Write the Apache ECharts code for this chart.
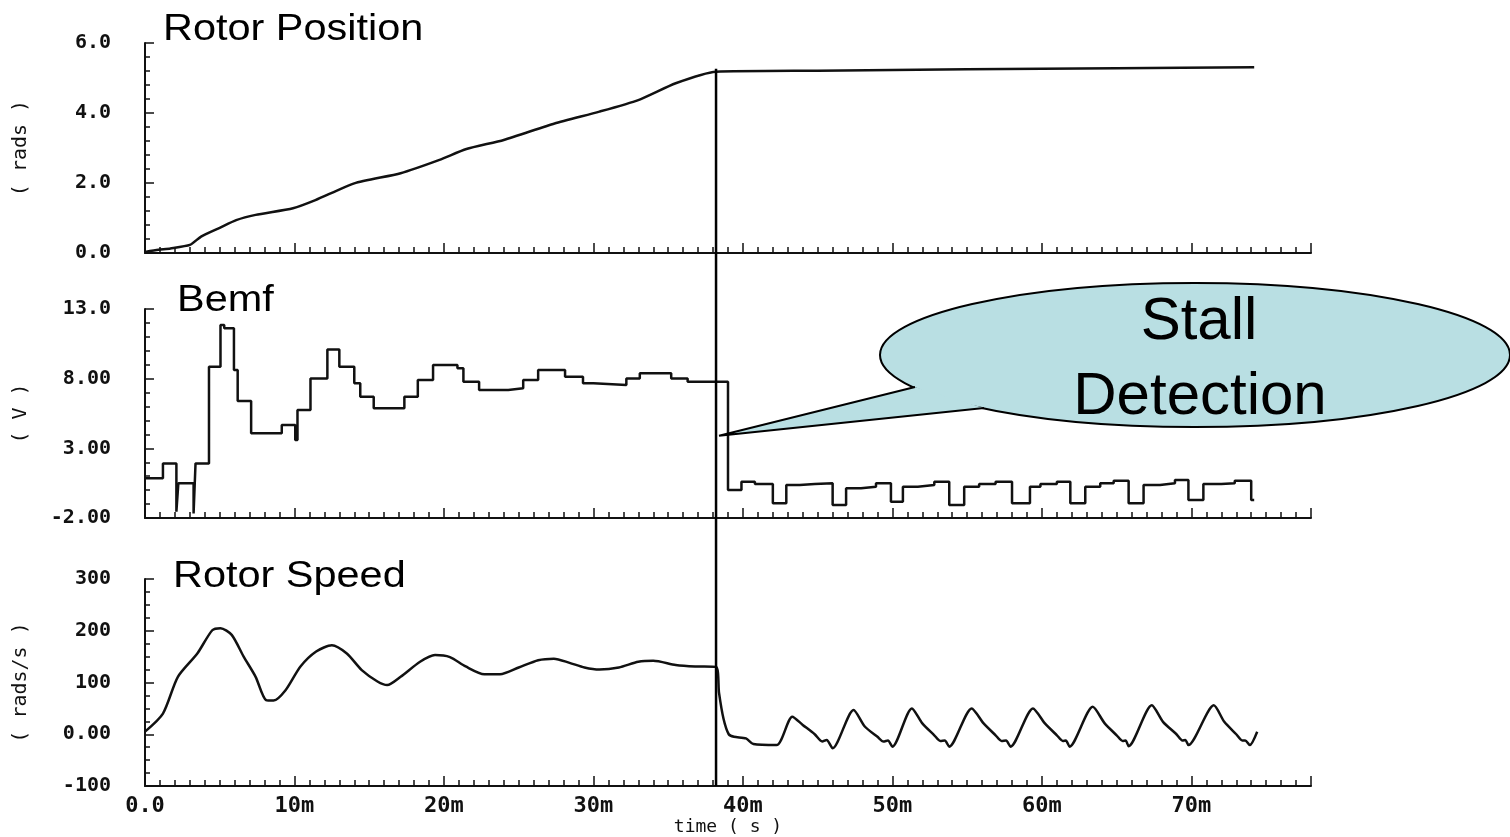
<!DOCTYPE html>
<html><head><meta charset="utf-8">
<script src="https://cdn.jsdelivr.net/npm/echarts@6/dist/echarts.min.js"></script>
<style>html,body{margin:0;padding:0;background:#fff}#c{width:1510px;height:837px}</style>
</head><body><div id="c"></div>
<script>
// ---- data (time in ms) ----
const stallT = 38.2;
const posT = [0, 0.9, 1.7, 3.0, 3.75, 5.0, 6.1, 7.4, 9.9, 11.4, 14.0, 17.1, 19.7, 21.5, 24.0, 27.4, 30.4, 33.0, 35.5, 38.2, 45, 55, 65, 74.2];
const posV = [0.03, 0.09, 0.13, 0.23, 0.47, 0.72, 0.94, 1.09, 1.28, 1.51, 1.99, 2.28, 2.66, 2.97, 3.23, 3.70, 4.04, 4.37, 4.85, 5.18, 5.21, 5.25, 5.28, 5.31];

const bemfT = [0, 1.2, 2.1, 2.23, 3.25, 3.38, 4.28, 5.05, 5.3, 5.95, 6.2, 7.1, 9.15, 10.05, 10.2, 11.07, 12.2, 13.0, 14.0, 14.4, 15.3, 17.35, 18.25, 19.27, 20.9, 21.3, 22.35, 24.3, 25.3, 26.3, 28.1, 29.3, 30.0, 32.2, 33.1, 35.2, 36.3,
  39.0, 39.9, 40.8, 42.0, 42.9, 43.8, 44.8, 46.0, 46.9, 47.9, 48.9, 49.9, 50.7, 51.7, 52.8, 53.8, 54.8, 55.8, 56.9, 58.0, 59.2, 59.9, 61.0, 61.9, 62.9, 63.9, 64.8, 65.8, 66.8, 67.9, 68.9, 69.8, 70.8, 72.0, 72.9, 74.0, 74.2];
const bemfV = [0.85, 1.92, -1.55, 0.49, -1.67, 1.92, 8.86, 11.85, 11.61, 8.62, 6.4, 4.08, 4.67, 3.6, 5.75, 8.02, 10.1, 8.86, 7.67, 6.71, 5.87, 6.71, 7.90, 8.98, 8.74, 7.78, 7.19, 7.31, 7.90, 8.62, 8.14, 7.67, 7.55, 8.02, 8.38, 8.02, 7.78,
  0.01, 0.61, 0.44, -0.95, 0.37, 0.44, 0.49, -1.07, 0.13, 0.25, 0.49, -0.83, 0.25, 0.37, 0.61, -1.07, 0.25, 0.44, 0.61, -0.95, 0.25, 0.44, 0.61, -0.95, 0.25, 0.49, 0.68, -0.95, 0.37, 0.49, 0.73, -0.7, 0.44, 0.49, 0.68, -0.7, -0.7];

const speedT = [0, 1.2, 2.2, 3.5, 4.5, 5.05, 5.8, 6.6, 7.4, 8.1, 8.6, 9.4, 10.4, 11.45, 12.5, 13.5, 14.5, 15.55, 16.2, 17.1, 18.4, 19.4, 20.4, 21.45, 22.7, 23.75, 25.0, 26.3, 27.35, 28.4, 29.4, 30.4, 31.7, 33.0, 34.0, 35.5, 36.8, 38.2,
  38.4, 38.7, 39.05, 39.4, 40.2, 40.7, 42.25, 43.3, 44.0, 44.8, 45.3, 45.6, 46.0, 47.4, 48.15, 49.0, 49.4, 49.7, 50.0, 51.3, 52.0, 52.8, 53.2, 53.5, 53.8, 55.3, 56.1, 56.9, 57.3, 57.6, 57.9, 59.4, 60.2, 61.0, 61.4, 61.6, 61.85, 63.4, 64.2, 65.0, 65.4, 65.6, 65.8, 67.35, 68.1, 69.0, 69.4, 69.6, 69.8, 71.5, 72.2, 73.0, 73.4, 73.6, 73.9, 74.4];
const speedV = [5, 40, 111, 156, 201, 205, 192, 150, 111, 66, 65, 85, 131, 160, 172, 156, 124, 102, 95, 111, 140, 153, 149, 131, 116, 116, 129, 143, 146, 138, 129, 125, 129, 140, 142, 134, 131, 130,
  80, 30, 0, -5, -8, -19, -21, 34, 18, 0, -14, -11, -27, 47, 15, -5, -14, -12, -24, 50, 21, -2, -13, -12, -24, 50, 21, -2, -13, -12, -24, 50, 21, -2, -13, -12, -24, 53, 21, -2, -13, -12, -23, 56, 24, 0, -12, -11, -21, 56, 24, 0, -12, -12, -21, 5];

const timeTicks = ['0.0', '10m', '20m', '30m', '40m', '50m', '60m', '70m'];
const posTicks = ['0.0', '2.0', '4.0', '6.0'];
const bemfTicks = ['-2.00', '3.00', '8.00', '13.0'];
const speedTicks = ['-100', '0.00', '100', '200', '300'];
const titles = ['Rotor Position', 'Bemf', 'Rotor Speed'];
const yNames = ['( rads )', '( V )', '( rads/s )'];
const calloutLines = ['Stall', 'Detection'];

const zip = (a, b) => a.map((t, i) => [t, b[i]]);

// ---- chart ----
const chart = echarts.init(document.getElementById('c'), null, {renderer: 'canvas'});
const INK = '#111';
const monoBold = {fontFamily: 'DejaVu Sans Mono', fontWeight: 'bold', color: INK};
const grids = [
  {left: 145, top: 43, width: 1166, height: 210},
  {left: 145, top: 309, width: 1166, height: 209},
  {left: 145, top: 579, width: 1166, height: 207}
];
function xAx(i) {
  return {
    gridIndex: i, type: 'value', min: 0, max: 78, interval: 10,
    axisLine: {show: true, onZero: false, lineStyle: {color: INK, width: 2}},
    axisTick: {show: true, inside: true, length: 10, lineStyle: {color: INK, width: 1.5}},
    minorTick: {show: true, splitNumber: 10, length: 6, lineStyle: {color: INK, width: 1.5}},
    splitLine: {show: false},
    axisLabel: i === 2 ? Object.assign({show: true, fontSize: 22, margin: 9,
      formatter: v => (v % 10 === 0 && timeTicks[v / 10] !== undefined) ? timeTicks[v / 10] : ''}, monoBold) : {show: false},
    name: i === 2 ? 'time ( s )' : '',
    nameLocation: 'middle', nameGap: 32,
    nameTextStyle: {fontFamily: 'DejaVu Sans Mono', fontSize: 18, color: INK}
  };
}
function yAx(i, min, max, interval, minorSplit, fmt) {
  return {
    gridIndex: i, type: 'value', min, max, interval,
    axisLine: {show: true, onZero: false, lineStyle: {color: INK, width: 2}},
    axisTick: {show: true, inside: true, length: 9, lineStyle: {color: INK, width: 1.5}},
    minorTick: {show: true, splitNumber: minorSplit, length: 5, lineStyle: {color: INK, width: 1.5}},
    splitLine: {show: false},
    axisLabel: Object.assign({show: true, fontSize: 20, margin: 34, formatter: fmt}, monoBold),
    name: yNames[i], nameLocation: 'middle', nameGap: 114,
    nameTextStyle: {fontFamily: 'DejaVu Sans Mono', fontSize: 20, color: INK}
  };
}
const lineStyle = {color: INK, width: 2.5};
const option = {
  backgroundColor: '#fff',
  animation: false,
  grid: grids,
  xAxis: [xAx(0), xAx(1), xAx(2)],
  yAxis: [
    yAx(0, 0, 6, 2, 5, v => posTicks[Math.round(v / 2)] || ''),
    yAx(1, -2, 13, 5, 5, v => bemfTicks[Math.round((v + 2) / 5)] || ''),
    yAx(2, -100, 300, 100, 4, v => speedTicks[Math.round((v + 100) / 100)] || '')
  ],
  series: [
    {type: 'line', xAxisIndex: 0, yAxisIndex: 0, data: zip(posT, posV), showSymbol: false, smooth: 0.2, lineStyle},
    {type: 'line', xAxisIndex: 1, yAxisIndex: 1, data: zip(bemfT, bemfV), step: 'end', showSymbol: false, lineStyle},
    {type: 'line', xAxisIndex: 2, yAxisIndex: 2, data: zip(speedT, speedV), showSymbol: false, smooth: 0.25, lineStyle}
  ]
};
chart.setOption(option);

// ---- annotations ----
const topPt = chart.convertToPixel({gridIndex: 0}, [stallT, posV[posT.indexOf(stallT)]]);
const botPt = chart.convertToPixel({gridIndex: 2}, [stallT, -100]);
const tip = chart.convertToPixel({gridIndex: 1}, [stallT + 0.2, 3.9]);
const FILL = '#B9DFE3';
const A = [915, 387], B = [984, 408];
const titlePos = [[163, 30], [177, 301], [173, 577]];
const g = [];
titles.forEach((t, i) => g.push({type: 'text', x: titlePos[i][0], y: titlePos[i][1], scaleX: 1.12, z: 100,
  style: {text: t, x: 0, y: 0, fontSize: 37, fontFamily: 'Liberation Sans, Arial', fill: '#000', align: 'left', verticalAlign: 'middle'}}));
g.push({type: 'line', z: 100, shape: {x1: topPt[0], y1: topPt[1] - 3, x2: botPt[0], y2: botPt[1]}, style: {stroke: '#000', lineWidth: 2.5}});
g.push({type: 'ellipse', z: 101, shape: {cx: 1195, cy: 355, rx: 315, ry: 72}, style: {fill: FILL, stroke: '#000', lineWidth: 2}});
g.push({type: 'polygon', z: 102, shape: {points: [A, tip, B]}, style: {fill: FILL}});
g.push({type: 'polyline', z: 103, shape: {points: [A, tip, B]}, style: {stroke: '#000', lineWidth: 2, fill: null}});
g.push({type: 'text', z: 104, x: 1199, y: 322, style: {text: calloutLines[0], fontSize: 60, fontFamily: 'Liberation Sans, Arial', fill: '#000', align: 'center', verticalAlign: 'middle'}});
g.push({type: 'text', z: 104, x: 1200, y: 397, style: {text: calloutLines[1], fontSize: 60, fontFamily: 'Liberation Sans, Arial', fill: '#000', align: 'center', verticalAlign: 'middle'}});
chart.setOption({graphic: g});
</script></body></html>
